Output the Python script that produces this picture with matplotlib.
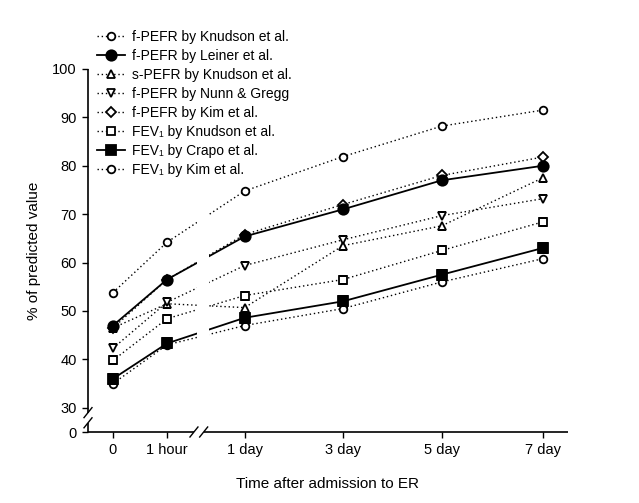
import matplotlib
matplotlib.use("Agg")
import matplotlib.pyplot as plt
from matplotlib.path import Path
import numpy as np

plt.rcParams['font.family'] = ['Liberation Sans', 'DejaVu Sans']

# ---- data ----
time_labels = ["0", "1 hour", "1 day", "3 day", "5 day", "7 day"]
fpefr_knudson = [53.8, 64.2, 74.8, 81.9, 88.2, 91.5]
fpefr_leiner = [47.0, 56.5, 65.4, 71.0, 77.0, 80.0]
spefr_knudson = [46.5, 51.5, 50.7, 63.5, 67.6, 77.5]
fpefr_nunn = [42.3, 51.8, 59.4, 64.7, 69.7, 73.2]
fpefr_kim = [46.5, 56.5, 65.8, 72.0, 78.0, 81.8]
fev1_knudson = [39.8, 48.4, 53.2, 56.5, 62.5, 68.4]
fev1_crapo = [36.0, 43.3, 48.6, 52.0, 57.5, 63.0]
fev1_kim = [35.0, 43.0, 47.0, 50.5, 56.0, 60.8]

series_names = [
    "f-PEFR by Knudson et al.",
    "f-PEFR by Leiner et al.",
    "s-PEFR by Knudson et al.",
    "f-PEFR by Nunn & Gregg",
    "f-PEFR by Kim et al.",
    "FEV\u2081 by Knudson et al.",
    "FEV\u2081 by Crapo et al.",
    "FEV\u2081 by Kim et al.",
]
series_values = [fpefr_knudson, fpefr_leiner, spefr_knudson, fpefr_nunn,
                 fpefr_kim, fev1_knudson, fev1_crapo, fev1_kim]

# ---- layout / style ----
xpos = [0, 1, 2.44, 4.26, 6.09, 7.96]
dotted = (0, (1, 2))
styles = [
    dict(marker='o', ls=dotted, mfc='white', ms=5.5, lw=1.0),
    dict(marker='o', ls='-', mfc='black', ms=7.5, lw=1.3),
    dict(marker='^', ls=dotted, mfc='white', ms=5.5, lw=1.0),
    dict(marker='v', ls=dotted, mfc='white', ms=5.5, lw=1.0),
    dict(marker='D', ls=dotted, mfc='white', ms=5, lw=1.0),
    dict(marker='s', ls=dotted, mfc='white', ms=5.5, lw=1.0),
    dict(marker='s', ls='-', mfc='black', ms=6.5, lw=1.3),
    dict(marker='o', ls=dotted, mfc='white', ms=5.5, lw=1.0),
]

fig = plt.figure(figsize=(6.39, 5.03), dpi=100)
ax = fig.add_axes([88/639, (503-432)/503, 480/639, (432-69)/503])
ax.set_xlim(-0.463, 8.43)
ax.set_ylim(25.0, 100)

gap_lo, gap_hi = 1.55, 1.78
clip = Path.make_compound_path(
    Path([(-5, -100), (gap_lo, -100), (gap_lo, 300), (-5, 300), (-5, -100)], closed=True),
    Path([(gap_hi, -100), (20, -100), (20, 300), (gap_hi, 300), (gap_hi, -100)], closed=True),
)

# draw order: dotted ones first, then solid
order = [0, 2, 3, 4, 5, 7, 1, 6]
handles = {}
for i in order:
    st = styles[i]
    line, = ax.plot(xpos, series_values[i], color='black', linestyle=st['ls'],
                    linewidth=st['lw'], marker=st['marker'], markersize=st['ms'],
                    markerfacecolor=st['mfc'], markeredgecolor='black',
                    markeredgewidth=1.3, label=series_names[i], zorder=3 + (i in (1, 6)))
    line.set_clip_path(clip, ax.transData)
    handles[i] = line

# axes decorations
for s in ['top', 'right', 'left', 'bottom']:
    ax.spines[s].set_visible(False)

ax.set_xticks(xpos)
ax.set_xticklabels(time_labels, fontsize=10.5)
ax.set_yticks([25.0, 30, 40, 50, 60, 70, 80, 90, 100])
ax.set_yticklabels(['0', '30', '40', '50', '60', '70', '80', '90', '100'], fontsize=10.5)
ax.tick_params(direction='out', length=4, width=1, colors='black', pad=4)

kw = dict(color='black', lw=1.2, transform=ax.transAxes, clip_on=False, solid_capstyle='butt')
# y-axis with break
y_up = (29.0 - 25) / 75
y_dn = (26.9 - 25) / 75
ax.plot([0, 0], [y_up, 1], **kw)
ax.plot([0, 0], [0, y_dn], **kw)
dx, dy = 4/480, 5/363
ax.plot([-dx, dx], [y_up - dy, y_up + dy], color='black', lw=1.0, transform=ax.transAxes, clip_on=False)
ax.plot([-dx, dx], [y_dn - dy, y_dn + dy], color='black', lw=1.0, transform=ax.transAxes, clip_on=False)
# x-axis with break
x_lo = (1.5 + 0.463) / 8.893
x_hi = (1.68 + 0.463) / 8.893
ax.plot([0, x_lo], [0, 0], **kw)
ax.plot([x_hi, 1], [0, 0], **kw)
ax.plot([x_lo - dx, x_lo + dx], [-dy, dy], color='black', lw=1.0, transform=ax.transAxes, clip_on=False)
ax.plot([x_hi - dx, x_hi + dx], [-dy, dy], color='black', lw=1.0, transform=ax.transAxes, clip_on=False)

ax.set_xlabel("Time after admission to ER", fontsize=11, labelpad=14)
ax.set_ylabel("% of predicted value", fontsize=11, labelpad=8)

leg = fig.legend([handles[i] for i in range(8)], series_names,
                 loc='upper left', bbox_to_anchor=(97/639, 1 - 30/503),
                 frameon=False, fontsize=10, handlelength=2.0, handletextpad=0.55,
                 labelspacing=0.36, borderpad=0, borderaxespad=0)

fig.savefig("out.png", dpi=100)
